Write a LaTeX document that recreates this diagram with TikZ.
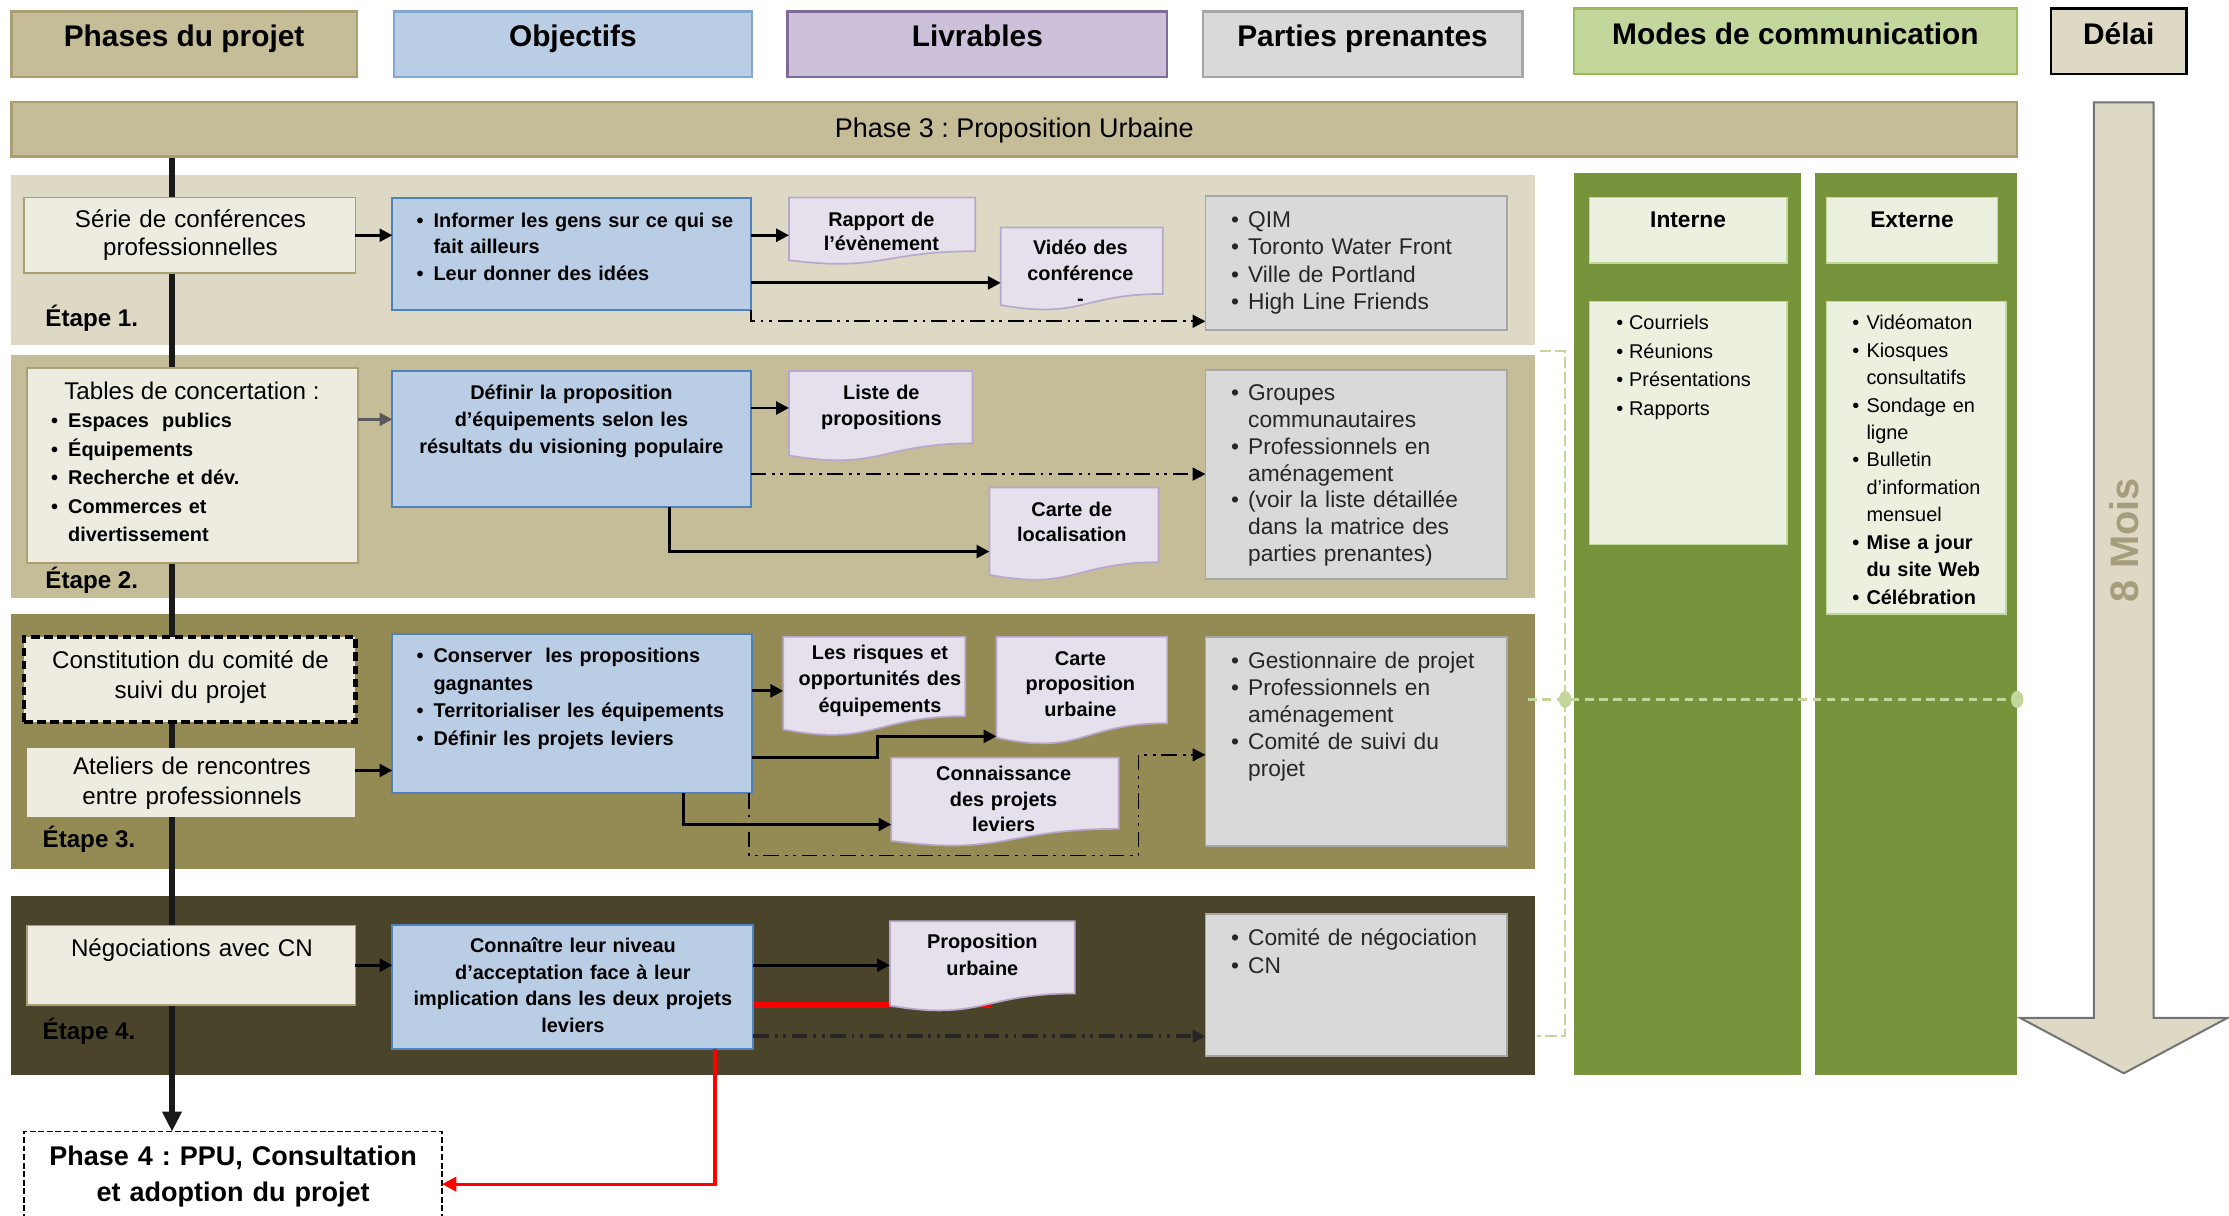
\documentclass[tikz,border=0pt]{standalone}
\usepackage{fontspec}
\setmainfont{Liberation Sans}
\usetikzlibrary{arrows.meta,calc}
\pgfdeclarelayer{bg}
\pgfsetlayers{bg,main}
\frenchspacing

\definecolor{tanA}{HTML}{DDD9C4}
\definecolor{tanB}{HTML}{C4BD97}
\definecolor{tanC}{HTML}{948A54}
\definecolor{tanD}{HTML}{4A452A}
\definecolor{tanLine}{HTML}{A89F72}
\definecolor{cream}{HTML}{EEECE1}
\definecolor{blueF}{HTML}{B9CDE5}
\definecolor{blueL}{HTML}{4F81BD}
\definecolor{lilacH}{HTML}{CCC0DA}
\definecolor{lilacL}{HTML}{7F6A98}
\definecolor{docF}{HTML}{E6E0EC}
\definecolor{docL}{HTML}{B8A9CC}
\definecolor{greyF}{HTML}{D9D9D9}
\definecolor{greyL}{HTML}{A6A6A6}
\definecolor{greenH}{HTML}{C3D69B}
\definecolor{greenHL}{HTML}{9BBB59}
\definecolor{greenC}{HTML}{77933C}
\definecolor{greenP}{HTML}{EBF1DE}
\definecolor{moisC}{HTML}{A49E7C}
\definecolor{arrgrey}{HTML}{595959}
\definecolor{ppText}{HTML}{262626}

% rectangle node given by its corners (x1,y1) (x2,y2)
\newcommand\areabox[6][]{%
  \node[inner sep=0pt,outer sep=0pt,anchor=north west,
        minimum width={(#5-#3)*0.5pt},minimum height={(#6-#4)*0.5pt},#1] (#2) at (#3,#4) {};}
% document shape with a wavy lower edge; #5 is the lowest point of the wave
\newcommand\docpage[5]{%
  \pgfmathsetmacro\dh{(#5-#3)/0.975}%
  \pgfmathsetmacro\dm{(#2+#4)/2}%
  \path[fill=docF,draw=docL,line width=0.6pt] (#2,#3) -- (#4,#3) -- (#4,{#3+0.8*\dh})
     .. controls (\dm,{#3+0.8*\dh}) and (\dm,{#3+1.108*\dh}) .. (#2,{#3+0.934*\dh}) -- cycle;
  \areabox{#1}{#2}{#3}{#4}{#5}}
\newcommand\bul[1][6pt]{\makebox[#1][l]{\textbullet}}
\newcommand\ind[1][6pt]{\hspace*{#1}}

\begin{document}
\begin{tikzpicture}[x=0.5pt,y=-0.5pt,
  hdrtxt/.style={inner sep=0pt,outer sep=0pt,anchor=base,font=\fontsize{10.5}{12}\selectfont\bfseries},
  tc/.style={inner sep=0pt,outer sep=0pt,anchor=base,align=center},
  tl/.style={inner sep=0pt,outer sep=0pt,anchor=base west,align=left},
  etape/.style={inner sep=0pt,outer sep=0pt,anchor=base west,font=\fontsize{8.5}{10}\selectfont\bfseries},
  leftbox/.style={fill=cream,draw=tanLine,line width=0.6pt},
  objbox/.style={fill=blueF,draw=blueL,line width=0.7pt},
  ppbox/.style={fill=greyF,draw=greyL,line width=0.7pt},
  gpanel/.style={fill=greenP,draw=greenH,line width=0.5pt},
  lefttxt/.style={tc,text width=112pt,font=\fontsize{8.5}{10}\selectfont},
  doctxt/.style={tc,text width=70pt},
  pptxt/.style={tl,text width=110pt,text=ppText},
  arr/.style={line width=1pt,-{Triangle[length=4.5pt,width=4.5pt]}},
  dashdot/.style={line width=0.75pt,dash pattern=on 5.5pt off 2pt on 1pt off 2pt on 1pt off 2pt,
                  -{Triangle[length=4.5pt,width=4.5pt]}},
  gdash/.style={draw=greenH,line width=0.6pt,dash pattern=on 4pt off 1.5pt},
]
\useasboundingbox (0,0) rectangle (1568,855);

% ---------- column headers ----------
\areabox[fill=tanB,draw=tanLine,line width=0.8pt]{hph}{8}{8}{251}{54}
\areabox[fill=blueF,draw=blueL!70,line width=0.8pt]{hobj}{277}{8}{529}{54}
\areabox[fill=lilacH,draw=lilacL,line width=0.8pt]{hliv}{554}{8}{821}{54}
\areabox[fill=greyF,draw=greyL,line width=0.8pt]{hpp}{846}{8}{1071}{54}
\areabox[fill=greenH,draw=greenHL,line width=0.8pt]{hmc}{1107}{6}{1419}{52}
\areabox[fill=tanA,draw=black,line width=0.8pt]{hdel}{1443}{6}{1538}{52}
\node[hdrtxt] (t-hph) at ($(hph.north)+(0,25)$) {Phases du projet};
\node[hdrtxt] (t-hobj) at ($(hobj.north)+(0,25)$) {Objectifs};
\node[hdrtxt] (t-hliv) at ($(hliv.north)+(0,25)$) {Livrables};
\node[hdrtxt] (t-hpp) at ($(hpp.north)+(0,25)$) {Parties prenantes};
\node[hdrtxt] (t-hmc) at ($(hmc.north)+(0,25)$) {Modes de communication};
\node[hdrtxt] (t-hdel) at ($(hdel.north)+(0,25)$) {Délai};

% ---------- phase bar ----------
\areabox[fill=tanB,draw=tanLine,line width=0.8pt]{phase3}{8}{72}{1419}{110}
\node[tc,font=\fontsize{9.5}{11}\selectfont] (t-phase3) at ($(phase3.center)+(0,6)$) {Phase 3 : Proposition Urbaine};

% ---------- stage bands ----------
\begin{pgfonlayer}{bg}
\areabox[fill=tanA]{e1}{8}{123}{1080}{243}
\areabox[fill=tanB]{e2}{8}{250}{1080}{421}
\areabox[fill=tanC]{e3}{8}{432}{1080}{611}
\areabox[fill=tanD]{e4}{8}{630}{1080}{756}
\end{pgfonlayer}
\node[etape] (t-e1) at (32,230) {Étape 1.};
\node[etape] (t-e2) at (32,414) {Étape 2.};
\node[etape] (t-e3) at (30,596) {Étape 3.};
\node[etape] (t-e4) at (30,731) {Étape 4.};

% ---------- communication columns ----------
\areabox[fill=greenC]{cint}{1107}{122}{1267}{756}
\areabox[fill=greenC]{cext}{1277}{122}{1419}{756}
\areabox[gpanel]{hint}{1118}{139}{1257}{185}
\areabox[gpanel]{hext}{1285}{139}{1405}{185}
\areabox[gpanel]{lint}{1118}{212}{1257}{383}
\areabox[gpanel]{lext}{1285}{212}{1411}{432}
\node[tc,font=\fontsize{8}{10}\selectfont\bfseries] (t-hint) at ($(hint.north)+(0,21)$) {Interne};
\node[tc,font=\fontsize{8}{10}\selectfont\bfseries] (t-hext) at ($(hext.north)+(0,21)$) {Externe};
\node[tl,text width=60pt,font=\fontsize{7}{10}\selectfont] (t-lint) at (1137,232)
  {\bul[4.5pt]Courriels\\ \bul[4.5pt]Réunions\\ \bul[4.5pt]Présentations\\ \bul[4.5pt]Rapports};
\node[tl,text width=60pt,font=\fontsize{7}{9.65}\selectfont] (t-lext) at (1303,232)
  {\bul[5pt]Vidéomaton\\ \bul[5pt]Kiosques\\ \ind[5pt]consultatifs\\ \bul[5pt]Sondage en\\ \ind[5pt]ligne\\
   \bul[5pt]Bulletin\\ \ind[5pt]d'information\\ \ind[5pt]mensuel\\ \textbf{\bul[5pt]Mise a jour}\\
   \textbf{\ind[5pt]du site Web}\\ \textbf{\bul[5pt]Célébration}};

% green dashed bracket and milestone line
\draw[gdash] (1083,247) -- (1101,247) -- (1101,729) -- (1081,729);
\draw[draw=greenH,line width=1pt,dash pattern=on 3pt off 2pt] (1075,492) -- (1419,492);
\fill[greenH] (1101,492) ellipse [x radius=2.2pt,y radius=3pt];
\fill[greenH] (1419,492) ellipse [x radius=2.2pt,y radius=3pt];

% ---------- delay arrow ----------
\path[fill=tanA,draw=gray!90!black,line width=0.7pt]
  (1473,72) -- (1515,72) -- (1515,716) -- (1567,716) -- (1494,755) -- (1421,716) -- (1473,716) -- cycle;
\node[rotate=90,inner sep=0pt,font=\fontsize{14}{14}\selectfont\bfseries,text=moisC] (t-mois) at (1494,380) {8 Mois};

% ---------- project phases (left) ----------
\areabox[leftbox]{b1}{17}{139}{250}{192}
\areabox[leftbox]{b2}{19}{259}{252}{396}
\areabox[fill=cream,draw=black,line width=1.5pt,dash pattern=on 3pt off 1.6pt]{b3}{17}{448}{250}{508}
\areabox[fill=cream]{b4}{19}{526}{250}{575}
\areabox[leftbox]{b5}{19}{651}{250}{707}
\areabox[fill=white,draw=black,line width=0.5pt,dash pattern=on 2pt off 1pt]{ph4}{17}{796}{311}{870}
\node[lefttxt] (t-b1) at (134,160) {Série de conférences\\professionnelles};
\node[tc,font=\fontsize{8.5}{10}\selectfont] (t-b2) at (135,281) {Tables de concertation :};
\node[tl,text width=110pt,font=\fontsize{7}{10}\selectfont\bfseries] (t-b2l) at (36,301)
  {\bul Espaces\ \ publics\\ \bul Équipements\\ \bul Recherche et dév.\\ \bul Commerces et\\ \ind divertissement};
\node[lefttxt,font=\fontsize{8.5}{10.8}\selectfont] (t-b3) at (134,470) {Constitution du comité de\\suivi du projet};
\node[lefttxt,font=\fontsize{8.5}{10.5}\selectfont] (t-b4) at (135,545) {Ateliers de rencontres\\entre professionnels};
\node[lefttxt] (t-b5) at (135,673) {Négociations avec CN};
\node[tc,text width=150pt,font=\fontsize{9.5}{12.5}\selectfont\bfseries] (t-ph4) at (164,820)
  {Phase 4 : PPU, Consultation\\et adoption du projet};

% ---------- objectives ----------
\areabox[objbox]{o1}{276}{139}{528}{218}
\areabox[objbox]{o2}{276}{261}{528}{357}
\areabox[objbox]{o3}{276}{446}{529}{558}
\areabox[objbox]{o4}{276}{651}{530}{738}
\node[tl,text width=124pt,font=\fontsize{7}{9.25}\selectfont\bfseries] (t-o1) at (293,160)
  {\bul Informer les gens sur ce qui se\\ \ind fait ailleurs\\ \bul Leur donner des idées};
\node[tc,text width=124pt,font=\fontsize{7}{9.5}\selectfont\bfseries] (t-o2) at (402,281)
  {Définir la proposition\\d'équipements selon les\\résultats du visioning populaire};
\node[tl,text width=124pt,font=\fontsize{7}{9.75}\selectfont\bfseries] (t-o3) at (293,466)
  {\bul Conserver\ \ les propositions\\ \ind gagnantes\\ \bul Territorialiser les équipements\\ \bul Définir les projets leviers};
\node[tc,text width=124pt,font=\fontsize{7}{9.35}\selectfont\bfseries] (t-o4) at (403,670)
  {Connaître leur niveau\\d'acceptation face à leur\\implication dans les deux projets\\leviers};

% ---------- deliverables ----------
\docpage{d1}{555}{139}{686}{185}
\docpage{d2}{704}{160}{818}{217}
\docpage{d3}{555}{261}{684}{323}
\docpage{d4}{696}{343}{815}{407}
\docpage{d5}{551}{448}{679}{516}
\docpage{d6}{701}{448}{821}{522}
\docpage{d7}{627}{533}{787}{594}
\docpage{d8}{626}{648}{756}{710}
\node[doctxt,font=\fontsize{7}{8.5}\selectfont\bfseries] (t-d1) at (620,159) {Rapport de\\l'évènement};
\node[doctxt,font=\fontsize{7}{9}\selectfont\bfseries] (t-d2) at (760,179) {Vidéo des\\conférence\\-};
\node[doctxt,font=\fontsize{7}{9}\selectfont\bfseries] (t-d3) at (620,281) {Liste de\\propositions};
\node[doctxt,font=\fontsize{7}{9}\selectfont\bfseries] (t-d4) at (754,363) {Carte de\\localisation};
\node[doctxt,font=\fontsize{7}{9.25}\selectfont\bfseries] (t-d5) at (619,464) {Les risques et\\opportunités des\\équipements};
\node[doctxt,font=\fontsize{7}{9}\selectfont\bfseries] (t-d6) at (760,468) {Carte\\proposition\\urbaine};
\node[doctxt,font=\fontsize{7}{9}\selectfont\bfseries] (t-d7) at (706,549) {Connaissance\\des projets\\leviers};
\node[doctxt,font=\fontsize{7}{9.5}\selectfont\bfseries] (t-d8) at (691,667) {Proposition\\urbaine};

% ---------- stakeholders ----------
\areabox[ppbox]{s1}{848}{138}{1060}{232}
\areabox[ppbox]{s2}{848}{260}{1060}{407}
\areabox[ppbox]{s3}{848}{448}{1060}{595}
\areabox[ppbox]{s4}{848}{643}{1060}{743}
\node[pptxt,font=\fontsize{8}{9.6}\selectfont] (t-s1) at (866,160)
  {\bul QIM\\ \bul Toronto Water Front\\ \bul Ville de Portland\\ \bul High Line Friends};
\node[pptxt,font=\fontsize{8}{9.4}\selectfont] (t-s2) at (866,282)
  {\bul Groupes\\ \ind communautaires\\ \bul Professionnels en\\ \ind aménagement\\ \bul (voir la liste détaillée\\ \ind dans la matrice des\\ \ind parties prenantes)};
\node[pptxt,font=\fontsize{8}{9.5}\selectfont] (t-s3) at (866,470)
  {\bul Gestionnaire de projet\\ \bul Professionnels en\\ \ind aménagement\\ \bul Comité de suivi du\\ \ind projet};
\node[pptxt,font=\fontsize{8}{9.75}\selectfont] (t-s4) at (866,665)
  {\bul Comité de négociation\\ \bul CN};

% ---------- project spine ----------
\begin{pgfonlayer}{bg}
\coordinate (ml) at ($(phase3.south west)+(113,0)$);
\draw[line width=2.3pt,color=black!90,-{Triangle[length=7pt,width=6.5pt]}] (ml) -- (ml |- ph4.north);
\coordinate (k41) at ($(o4.north east)+(0,56)$);
\draw[red,line width=2pt] (k41) -- ++(167,0);
\end{pgfonlayer}

% ---------- stage 1 links ----------
\draw[arr] (b1.east) -- (b1.east -| o1.west);
\draw[arr] (o1.east |- b1.east) -- (b1.east -| d1.west);
\coordinate (k12) at ($(d2.west)+(0,10.5)$);
\draw[arr] (o1.east |- k12) -- (k12);
\coordinate (k13) at ($(s1.south west)+(0,-6)$);
\draw[dashdot] (o1.south east) |- (k13);

% ---------- stage 2 links ----------
\coordinate (k21) at ($(o2.north west)+(0,34)$);
\draw[arr,color=arrgrey] (b2.east |- k21) -- (k21);
\coordinate (k22) at ($(d3.west)+(0,-5)$);
\draw[arr] (o2.east |- k22) -- (k22);
\draw[dashdot] (o2.east |- s2.west) -- (s2.west);
\coordinate (k23) at ($(o2.south)+(69,0)$);
\coordinate (k24) at ($(d4.west)+(0,13)$);
\draw[arr] (k23) |- (k24);

% ---------- stage 3 links ----------
\coordinate (k31) at ($(o3.north west)+(0,96)$);
\draw[arr] (b4.east |- k31) -- (k31);
\coordinate (k32) at ($(d5.west)+(0,4)$);
\draw[arr] (o3.east |- k32) -- (k32);
\coordinate (k33) at ($(o3.north east)+(0,87)$);
\coordinate (k34) at ($(d6.west)+(0,33)$);
\draw[arr] (k33) -- ++(88,0) |- (k34);
\coordinate (k35) at ($(o3.south)+(78.5,0)$);
\coordinate (k36) at ($(d7.west)+(0,16.5)$);
\draw[arr] (k35) |- (k36);
\coordinate (k37) at ($(o3.south east)+(-2,0)$);
\coordinate (k38) at ($(s3.west)+(0,9.5)$);
\draw[dashdot,line width=0.5pt] (k37) |- ($(k38)+(-47,71)$) |- (k38);

% ---------- stage 4 links ----------
\draw[arr] (b5.east) -- (b5.east -| o4.west);
\draw[arr] (o4.east |- d8.west) -- (d8.west);
\coordinate (k42) at ($(s4.west)+(0,36)$);
\draw[dashdot,line width=1.3pt,color=black!85] (o4.east |- k42) -- (k42);
\coordinate (k43) at ($(o4.south)+(100,0)$);
\draw[red,line width=1.1pt,-{Triangle[length=5pt,width=5pt]}] (k43) |- (ph4.east);

\end{tikzpicture}
\end{document}
